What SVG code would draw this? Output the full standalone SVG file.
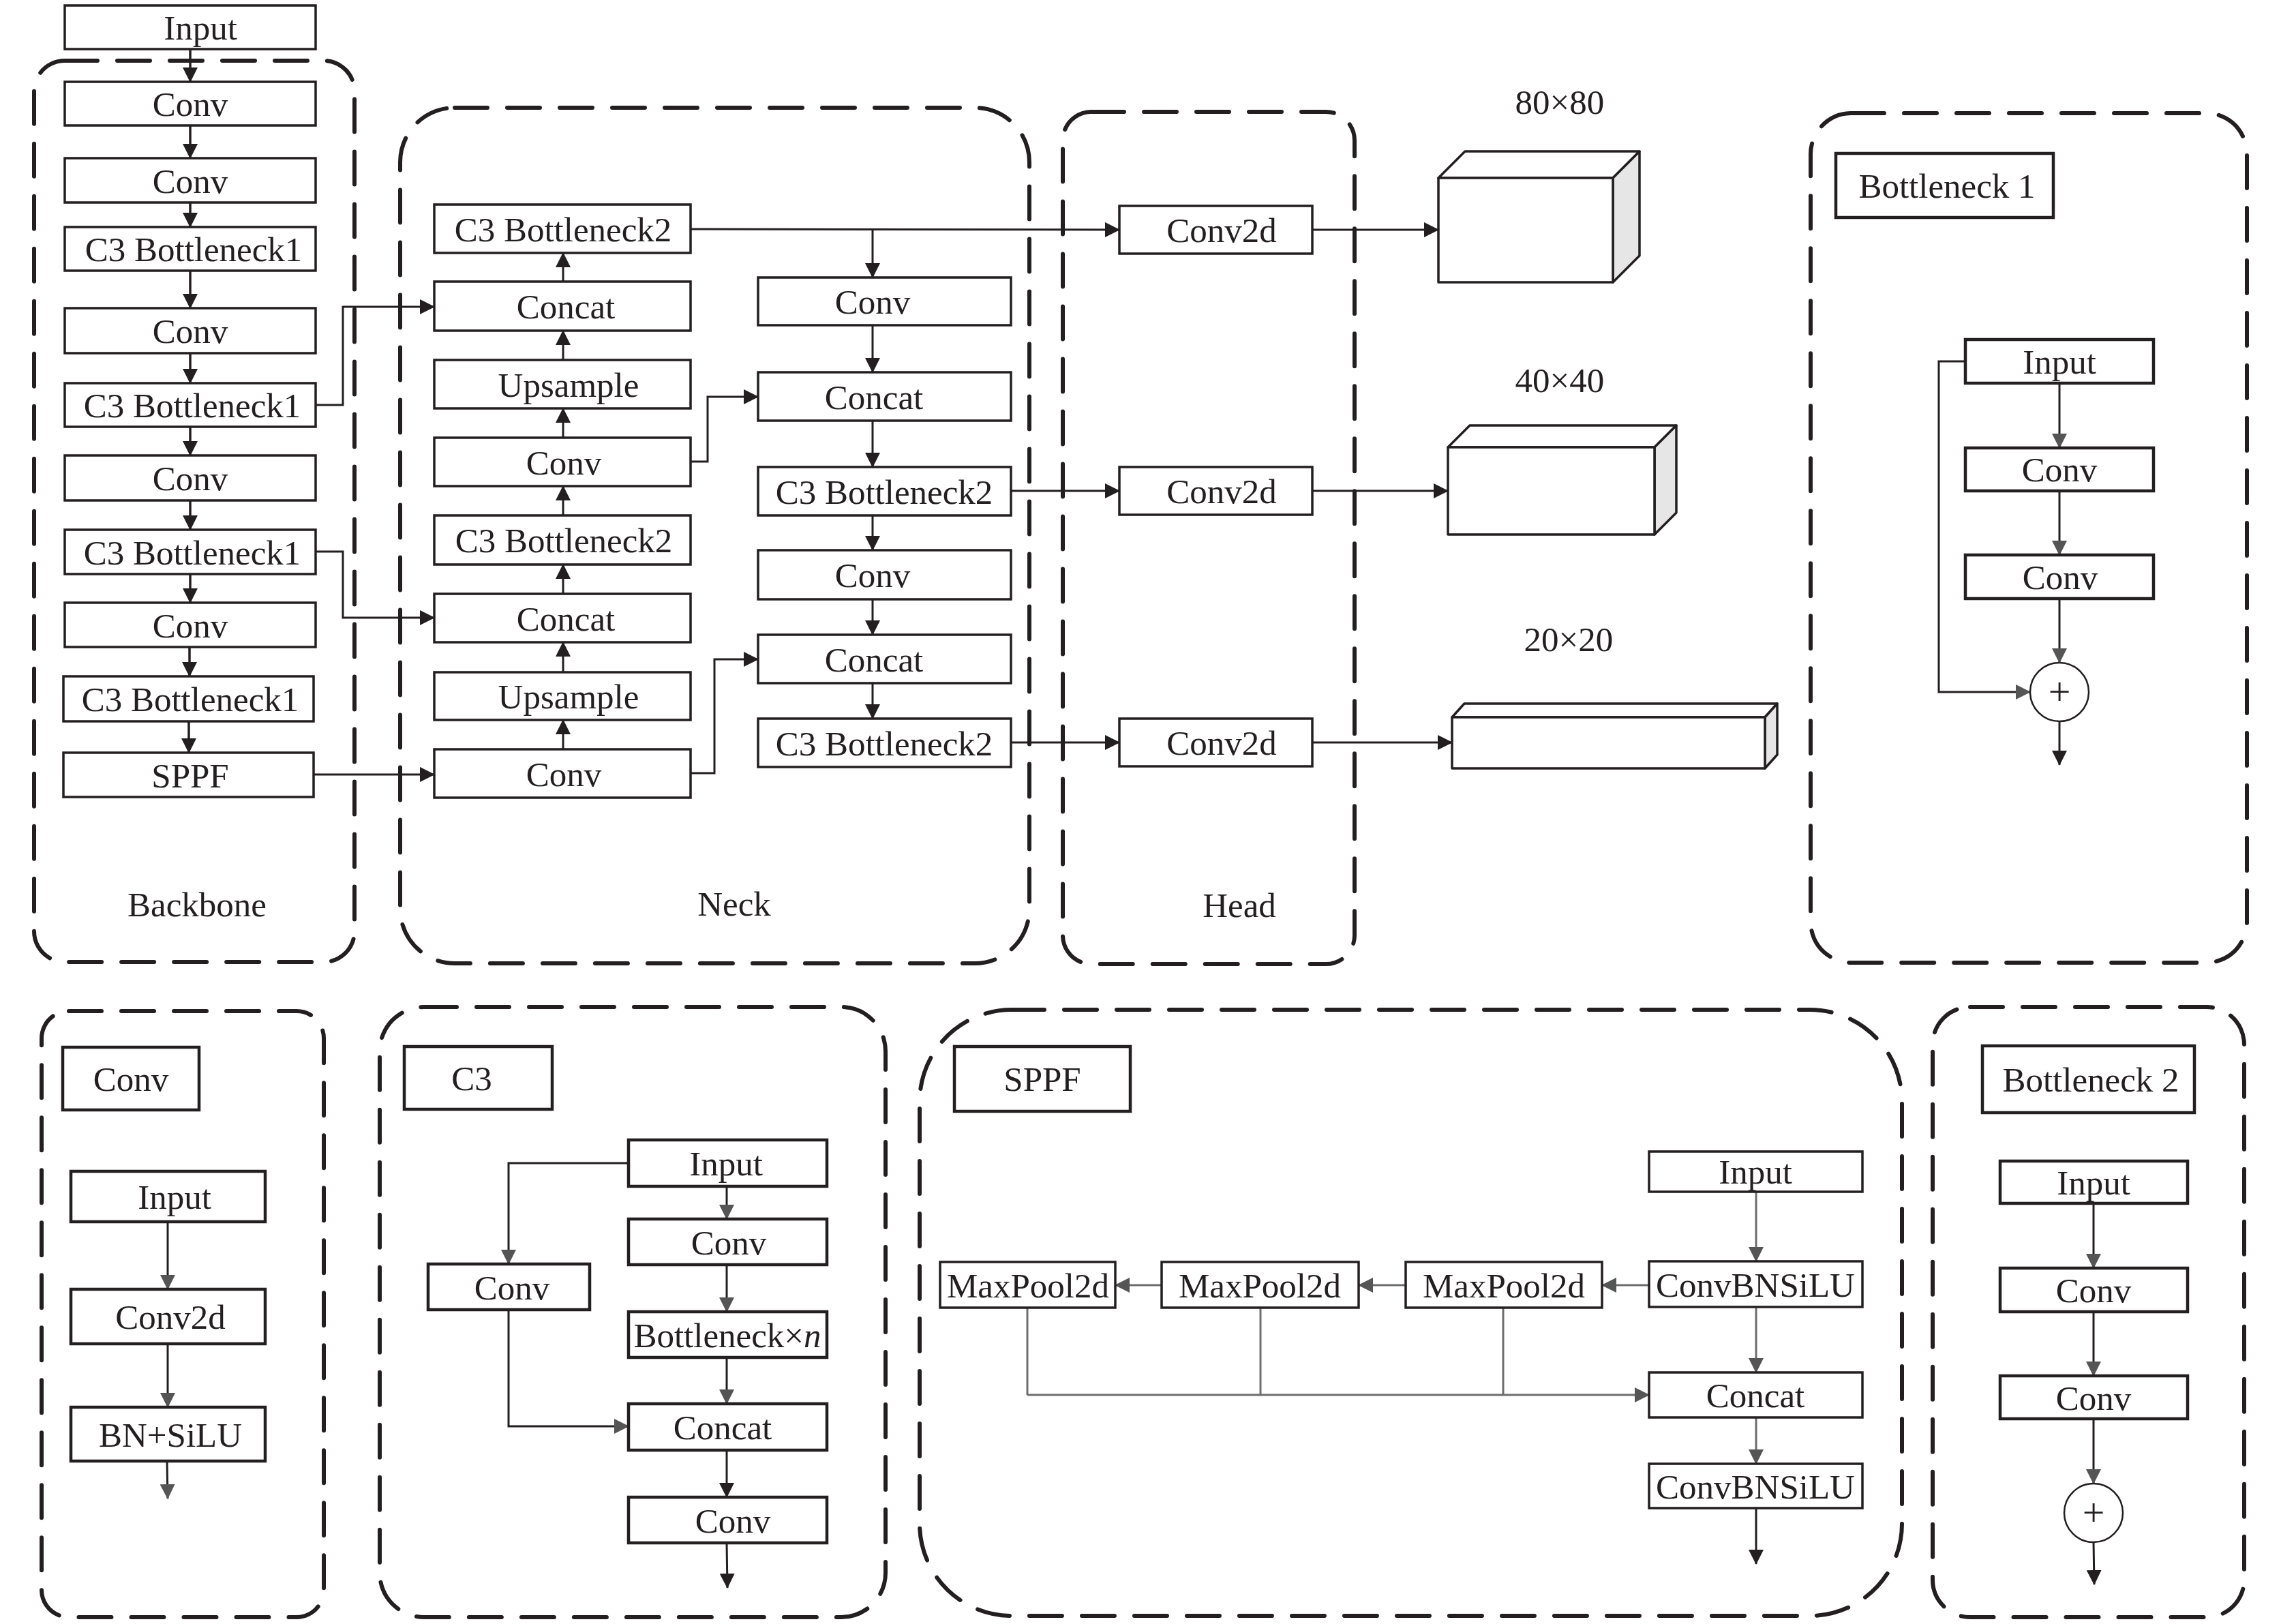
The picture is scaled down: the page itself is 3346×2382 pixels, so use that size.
<svg xmlns="http://www.w3.org/2000/svg" width="3346" height="2382" viewBox="0 0 3346 2382">
<defs>
<style>
.box{fill:#fff;stroke:#231f20;stroke-width:3.5}
.tb{fill:#fff;stroke:#231f20;stroke-width:4.5}
.grp{fill:none;stroke:#231f20;stroke-width:6;stroke-dasharray:48 29;stroke-linecap:round}
.t{font-family:"Liberation Serif","Times New Roman",serif;font-size:51px;fill:#231f20;text-anchor:middle}
.ln{fill:none;stroke:#231f20;stroke-width:3.5}
.lk{fill:none;stroke:#231f20;stroke-width:3}
.lg{fill:none;stroke:#6d6d6d;stroke-width:3}
.ab{marker-end:url(#ab)}
.ag{marker-end:url(#ag)}
.face{fill:#fff;stroke:#231f20;stroke-width:3.5;stroke-linejoin:round}
.side{fill:#e6e6e6;stroke:#231f20;stroke-width:3.5;stroke-linejoin:round}
</style>
<marker id="ab" markerUnits="userSpaceOnUse" markerWidth="22" markerHeight="22" viewBox="0 0 22 22" refX="21" refY="11" orient="auto"><path d="M0,0L22,11L0,22z" fill="#231f20"/></marker>
<marker id="ag" markerUnits="userSpaceOnUse" markerWidth="22" markerHeight="22" viewBox="0 0 22 22" refX="21" refY="11" orient="auto"><path d="M0,0L22,11L0,22z" fill="#555"/></marker>
</defs>
<rect width="3346" height="2382" fill="#fff"/>

<!-- group frames -->
<g id="frames">
<rect class="grp" x="50" y="89" width="470" height="1322" rx="45"/>
<rect class="grp" x="587" y="158" width="923" height="1255" rx="80"/>
<rect class="grp" x="1559" y="164" width="428" height="1250" rx="42"/>
<rect class="grp" x="2656" y="166" width="640" height="1246" rx="60"/>
<rect class="grp" x="61" y="1483" width="414" height="889" rx="40"/>
<rect class="grp" x="557" y="1477" width="742" height="895" rx="65"/>
<rect class="grp" x="1349" y="1481" width="1441" height="889" rx="135"/>
<rect class="grp" x="2835" y="1477" width="457" height="895" rx="55"/>
<text class="t" x="289" y="1344">Backbone</text>
<text class="t" x="1077" y="1343">Neck</text>
<text class="t" x="1818" y="1345">Head</text>
</g>

<!-- connectors -->
<g id="connectors">
<!-- backbone -->
<line class="ln ab" x1="279" y1="72" x2="279" y2="120"/>
<line class="ln ab" x1="279" y1="184" x2="279" y2="232"/>
<line class="ln ab" x1="279" y1="297" x2="279" y2="333"/>
<line class="ln ab" x1="279" y1="397" x2="279" y2="452"/>
<line class="ln ab" x1="279" y1="518" x2="279" y2="562"/>
<line class="ln ab" x1="279" y1="626" x2="279" y2="668"/>
<line class="ln ab" x1="279" y1="734" x2="279" y2="777"/>
<line class="ln ab" x1="279" y1="842" x2="279" y2="884"/>
<line class="ln ab" x1="278" y1="949" x2="278" y2="992"/>
<line class="ln ab" x1="277" y1="1058" x2="277" y2="1104"/>
<polyline class="lk ab" points="463,594 503,594 503,450 637,450"/>
<polyline class="lk ab" points="463,809 503,809 503,906 637,906"/>
<polyline class="lk ab" points="460,1136 637,1136"/>
<!-- neck left (upward) -->
<line class="lk ab" x1="826" y1="1099" x2="826" y2="1056"/>
<line class="lk ab" x1="826" y1="986" x2="826" y2="942"/>
<line class="lk ab" x1="826" y1="871" x2="826" y2="828"/>
<line class="lk ab" x1="826" y1="756" x2="826" y2="713"/>
<line class="lk ab" x1="826" y1="642" x2="826" y2="599"/>
<line class="lk ab" x1="826" y1="528" x2="826" y2="485"/>
<line class="lk ab" x1="826" y1="413" x2="826" y2="371"/>
<!-- neck right -->
<polyline class="lk ab" points="1013,336 1642,337"/>
<line class="lk ab" x1="1280" y1="336" x2="1280" y2="407"/>
<line class="lk ab" x1="1280" y1="477" x2="1280" y2="546"/>
<polyline class="lk ab" points="1013,677 1038,677 1038,582 1112,582"/>
<line class="lk ab" x1="1280" y1="617" x2="1280" y2="685"/>
<line class="lk ab" x1="1483" y1="720" x2="1642" y2="720"/>
<line class="lk ab" x1="1280" y1="756" x2="1280" y2="807"/>
<line class="lk ab" x1="1280" y1="879" x2="1280" y2="931"/>
<polyline class="lk ab" points="1013,1134 1048,1134 1048,967 1112,967"/>
<line class="lk ab" x1="1280" y1="1002" x2="1280" y2="1054"/>
<line class="lk ab" x1="1483" y1="1089" x2="1642" y2="1089"/>
<!-- head -->
<line class="lk ab" x1="1925" y1="337" x2="2110" y2="337"/>
<line class="lk ab" x1="1925" y1="720" x2="2124" y2="720"/>
<line class="lk ab" x1="1925" y1="1089" x2="2130" y2="1089"/>
<!-- bottleneck 1 -->
<line class="lk ag" x1="3021" y1="562" x2="3021" y2="657"/>
<line class="lk ag" x1="3021" y1="720" x2="3021" y2="814"/>
<line class="lk ag" x1="3021" y1="878" x2="3021" y2="972"/>
<polyline class="lk ag" points="2883,530 2844,530 2844,1015 2978,1015"/>
<line class="lk ab" x1="3021" y1="1058" x2="3021" y2="1122"/>
<!-- conv block -->
<line class="lk ag" x1="246" y1="1792" x2="246" y2="1891"/>
<line class="lk ag" x1="246" y1="1971" x2="246" y2="2064"/>
<line class="lk ag" x1="245" y1="2143" x2="246" y2="2198"/>
<!-- C3 block -->
<line class="lk ag" x1="1066" y1="1740" x2="1066" y2="1788"/>
<line class="lk ag" x1="1066" y1="1855" x2="1066" y2="1924"/>
<line class="lk ag" x1="1066" y1="1991" x2="1066" y2="2059"/>
<line class="lk ab" x1="1066" y1="2127" x2="1066" y2="2196"/>
<line class="lk ab" x1="1066" y1="2263" x2="1067" y2="2329"/>
<polyline class="lk ag" points="922,1706 746,1706 746,1854"/>
<polyline class="lk ag" points="746,1921 746,2092 922,2092"/>
<!-- SPPF block -->
<line class="lg ag" x1="2576" y1="1748" x2="2576" y2="1850"/>
<line class="lg ag" x1="2419" y1="1885" x2="2350" y2="1885"/>
<line class="lg ag" x1="2062" y1="1885" x2="1993" y2="1885"/>
<line class="lg ag" x1="1704" y1="1885" x2="1636" y2="1885"/>
<polyline class="lg" points="1507,1918 1507,2046"/>
<polyline class="lg" points="1849,1918 1849,2046"/>
<polyline class="lg" points="2205,1918 2205,2046"/>
<line class="lg ag" x1="1507" y1="2046" x2="2419" y2="2046"/>
<line class="lg ag" x1="2576" y1="1917" x2="2576" y2="2013"/>
<line class="lg ag" x1="2576" y1="2079" x2="2576" y2="2147"/>
<line class="lk ab" x1="2576" y1="2212" x2="2576" y2="2294"/>
<!-- bottleneck 2 -->
<line class="lk ag" x1="3071" y1="1765" x2="3071" y2="1860"/>
<line class="lk ag" x1="3071" y1="1924" x2="3071" y2="2018"/>
<line class="lk ag" x1="3071" y1="2081" x2="3071" y2="2176"/>
<line class="lk ab" x1="3071" y1="2262" x2="3072" y2="2324"/>
</g>

<!-- backbone nodes -->
<g id="bb-input"><rect class="box" x="95" y="8" width="368" height="64"/><text class="t" x="294" y="58">Input</text></g>
<g id="bb-conv1"><rect class="box" x="95" y="120" width="368" height="64"/><text class="t" x="279" y="170">Conv</text></g>
<g id="bb-conv2"><rect class="box" x="95" y="232" width="368" height="65"/><text class="t" x="279" y="283">Conv</text></g>
<g id="bb-c3a"><rect class="box" x="95" y="333" width="368" height="64"/><text class="t" x="284" y="383">C3 Bottleneck1</text></g>
<g id="bb-conv3"><rect class="box" x="95" y="452" width="368" height="66"/><text class="t" x="279" y="503">Conv</text></g>
<g id="bb-c3b"><rect class="box" x="95" y="562" width="368" height="64"/><text class="t" x="282" y="612">C3 Bottleneck1</text></g>
<g id="bb-conv4"><rect class="box" x="95" y="668" width="368" height="66"/><text class="t" x="279" y="719">Conv</text></g>
<g id="bb-c3c"><rect class="box" x="95" y="777" width="368" height="65"/><text class="t" x="282" y="828">C3 Bottleneck1</text></g>
<g id="bb-conv5"><rect class="box" x="95" y="884" width="368" height="65"/><text class="t" x="279" y="935">Conv</text></g>
<g id="bb-c3d"><rect class="box" x="93" y="992" width="367" height="66"/><text class="t" x="279" y="1043">C3 Bottleneck1</text></g>
<g id="bb-sppf"><rect class="box" x="93" y="1104" width="367" height="65"/><text class="t" x="279" y="1155">SPPF</text></g>

<!-- neck nodes -->
<g id="nk-c3top"><rect class="box" x="637" y="300" width="376" height="71"/><text class="t" x="826" y="354">C3 Bottleneck2</text></g>
<g id="nk-concat1"><rect class="box" x="637" y="413" width="376" height="72"/><text class="t" x="830" y="467">Concat</text></g>
<g id="nk-up1"><rect class="box" x="637" y="528" width="376" height="71"/><text class="t" x="834" y="582">Upsample</text></g>
<g id="nk-conv1"><rect class="box" x="637" y="642" width="376" height="71"/><text class="t" x="827" y="696">Conv</text></g>
<g id="nk-c3mid"><rect class="box" x="637" y="756" width="376" height="72"/><text class="t" x="827" y="810">C3 Bottleneck2</text></g>
<g id="nk-concat2"><rect class="box" x="637" y="871" width="376" height="71"/><text class="t" x="830" y="925">Concat</text></g>
<g id="nk-up2"><rect class="box" x="637" y="986" width="376" height="70"/><text class="t" x="834" y="1039">Upsample</text></g>
<g id="nk-conv2"><rect class="box" x="637" y="1099" width="376" height="71"/><text class="t" x="827" y="1153">Conv</text></g>
<g id="nk-conv3"><rect class="box" x="1112" y="407" width="371" height="70"/><text class="t" x="1280" y="460">Conv</text></g>
<g id="nk-concat3"><rect class="box" x="1112" y="546" width="371" height="71"/><text class="t" x="1282" y="600">Concat</text></g>
<g id="nk-c3r1"><rect class="box" x="1112" y="685" width="371" height="71"/><text class="t" x="1297" y="739">C3 Bottleneck2</text></g>
<g id="nk-conv4"><rect class="box" x="1112" y="807" width="371" height="72"/><text class="t" x="1280" y="861">Conv</text></g>
<g id="nk-concat4"><rect class="box" x="1112" y="931" width="371" height="71"/><text class="t" x="1282" y="985">Concat</text></g>
<g id="nk-c3r2"><rect class="box" x="1112" y="1054" width="371" height="71"/><text class="t" x="1297" y="1108">C3 Bottleneck2</text></g>

<!-- head nodes -->
<g id="hd-conv2d1"><rect class="box" x="1642" y="302" width="283" height="70"/><text class="t" x="1792" y="355">Conv2d</text></g>
<g id="hd-conv2d2"><rect class="box" x="1642" y="685" width="283" height="70"/><text class="t" x="1792" y="738">Conv2d</text></g>
<g id="hd-conv2d3"><rect class="box" x="1642" y="1054" width="283" height="70"/><text class="t" x="1792" y="1107">Conv2d</text></g>

<!-- output feature maps -->
<g id="out-80">
<text class="t" x="2288" y="167">80×80</text>
<polygon class="face" points="2110,261 2149,222 2405,222 2366,261"/>
<polygon class="side" points="2366,261 2405,222 2405,375 2366,414"/>
<rect class="face" x="2110" y="261" width="256" height="153"/>
</g>
<g id="out-40">
<text class="t" x="2288" y="575">40×40</text>
<polygon class="face" points="2124,656 2156,624 2459,624 2427,656"/>
<polygon class="side" points="2427,656 2459,624 2459,752 2427,784"/>
<rect class="face" x="2124" y="656" width="303" height="128"/>
</g>
<g id="out-20">
<text class="t" x="2301" y="955">20×20</text>
<polygon class="face" points="2130,1052 2148,1032 2607,1032 2589,1052"/>
<polygon class="side" points="2589,1052 2607,1032 2607,1107 2589,1127"/>
<rect class="face" x="2130" y="1052" width="459" height="75"/>
</g>

<!-- Bottleneck 1 -->
<g id="b1-title"><rect class="tb" x="2693" y="225" width="319" height="94"/><text class="t" x="2856" y="290">Bottleneck 1</text></g>
<g id="b1-input"><rect class="tb" x="2883" y="498" width="276" height="64"/><text class="t" x="3021" y="548">Input</text></g>
<g id="b1-conv1"><rect class="tb" x="2883" y="657" width="276" height="63"/><text class="t" x="3021" y="706">Conv</text></g>
<g id="b1-conv2"><rect class="tb" x="2883" y="814" width="276" height="64"/><text class="t" x="3022" y="864">Conv</text></g>
<g id="b1-add"><circle cx="3021" cy="1015" r="43" fill="#fff" stroke="#231f20" stroke-width="2.5"/><text class="t" x="3021" y="1034" style="font-size:58px">+</text></g>

<!-- Conv block -->
<g id="cv-title"><rect class="tb" x="92" y="1536" width="200" height="92"/><text class="t" x="192" y="1600">Conv</text></g>
<g id="cv-input"><rect class="tb" x="104" y="1718" width="285" height="74"/><text class="t" x="256" y="1773">Input</text></g>
<g id="cv-conv2d"><rect class="tb" x="104" y="1891" width="285" height="80"/><text class="t" x="250" y="1949">Conv2d</text></g>
<g id="cv-bnsilu"><rect class="tb" x="104" y="2064" width="285" height="79"/><text class="t" x="250" y="2122">BN+SiLU</text></g>

<!-- C3 block -->
<g id="c3-title"><rect class="tb" x="593" y="1535" width="217" height="92"/><text class="t" x="692" y="1599">C3</text></g>
<g id="c3-input"><rect class="tb" x="922" y="1672" width="291" height="68"/><text class="t" x="1065" y="1724">Input</text></g>
<g id="c3-conv1"><rect class="tb" x="922" y="1788" width="291" height="67"/><text class="t" x="1069" y="1840">Conv</text></g>
<g id="c3-bottleneck"><rect class="tb" x="922" y="1924" width="291" height="67"/><text class="t" x="1067" y="1976">Bottleneck×<tspan font-style="italic">n</tspan></text></g>
<g id="c3-concat"><rect class="tb" x="922" y="2059" width="291" height="68"/><text class="t" x="1060" y="2111">Concat</text></g>
<g id="c3-conv2"><rect class="tb" x="922" y="2196" width="291" height="67"/><text class="t" x="1075" y="2248">Conv</text></g>
<g id="c3-convleft"><rect class="tb" x="628" y="1854" width="237" height="67"/><text class="t" x="751" y="1906">Conv</text></g>

<!-- SPPF block -->
<g id="sp-title"><rect class="tb" x="1400" y="1535" width="258" height="95"/><text class="t" x="1529" y="1600">SPPF</text></g>
<g id="sp-mp1"><rect class="box" x="1379" y="1851" width="257" height="67"/><text class="t" x="1508" y="1903">MaxPool2d</text></g>
<g id="sp-mp2"><rect class="box" x="1704" y="1851" width="289" height="67"/><text class="t" x="1848" y="1903">MaxPool2d</text></g>
<g id="sp-mp3"><rect class="box" x="2062" y="1851" width="288" height="67"/><text class="t" x="2206" y="1903">MaxPool2d</text></g>
<g id="sp-input"><rect class="box" x="2419" y="1689" width="313" height="59"/><text class="t" x="2575" y="1736">Input</text></g>
<g id="sp-cbs1"><rect class="box" x="2419" y="1850" width="313" height="67"/><text class="t" x="2575" y="1902">ConvBNSiLU</text></g>
<g id="sp-concat"><rect class="box" x="2419" y="2013" width="313" height="66"/><text class="t" x="2575" y="2064">Concat</text></g>
<g id="sp-cbs2"><rect class="box" x="2419" y="2147" width="313" height="65"/><text class="t" x="2575" y="2198">ConvBNSiLU</text></g>

<!-- Bottleneck 2 -->
<g id="b2-title"><rect class="tb" x="2908" y="1534" width="311" height="98"/><text class="t" x="3067" y="1601">Bottleneck 2</text></g>
<g id="b2-input"><rect class="tb" x="2934" y="1703" width="275" height="62"/><text class="t" x="3071" y="1752">Input</text></g>
<g id="b2-conv1"><rect class="tb" x="2934" y="1860" width="275" height="64"/><text class="t" x="3071" y="1910">Conv</text></g>
<g id="b2-conv2"><rect class="tb" x="2934" y="2018" width="275" height="63"/><text class="t" x="3071" y="2068">Conv</text></g>
<g id="b2-add"><circle cx="3071" cy="2219" r="43" fill="#fff" stroke="#231f20" stroke-width="2.5"/><text class="t" x="3071" y="2238" style="font-size:58px">+</text></g>
</svg>
